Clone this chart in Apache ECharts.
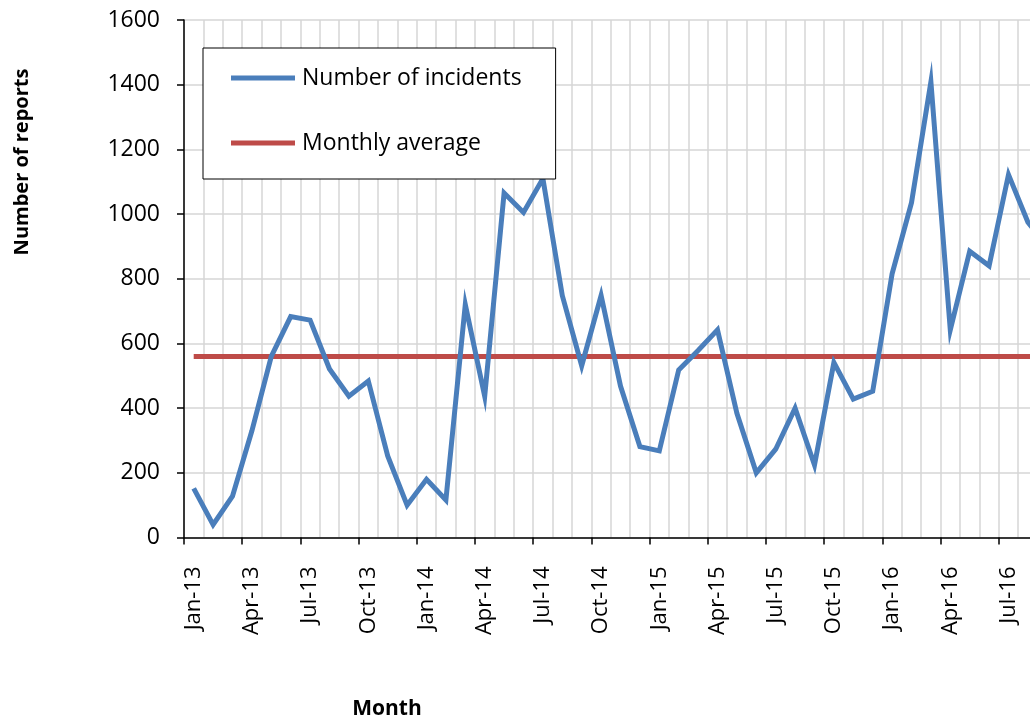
<!DOCTYPE html>
<html>
<head>
<meta charset="utf-8">
<script src="https://cdn.jsdelivr.net/npm/echarts@6/dist/echarts.min.js"></script>
<style>
  html, body { margin: 0; padding: 0; background: #fff; overflow: hidden; width: 1030px; height: 718px; }
  #chart { width: 1100px; height: 718px; }
</style>
</head>
<body>
<div id="chart"></div>
<script>
const months = [
  'Jan-13','Feb-13','Mar-13','Apr-13','May-13','Jun-13','Jul-13','Aug-13','Sep-13','Oct-13','Nov-13','Dec-13',
  'Jan-14','Feb-14','Mar-14','Apr-14','May-14','Jun-14','Jul-14','Aug-14','Sep-14','Oct-14','Nov-14','Dec-14',
  'Jan-15','Feb-15','Mar-15','Apr-15','May-15','Jun-15','Jul-15','Aug-15','Sep-15','Oct-15','Nov-15','Dec-15',
  'Jan-16','Feb-16','Mar-16','Apr-16','May-16','Jun-16','Jul-16','Aug-16','Sep-16'
];
const incidents = [
  152, 40, 128, 330, 560, 683, 672, 521, 437, 484, 252, 100,
  180, 116, 720, 437, 1065, 1005, 1110, 748, 531, 748, 468, 281,
  268, 518, 578, 642, 384, 200, 273, 400, 224, 541, 428, 452,
  815, 1035, 1409, 642, 885, 840, 1122, 975, 900
];
const monthlyAverageValue = 560;
const monthlyAverage = months.map(() => monthlyAverageValue);

const FONT = 'Open Sans';
const chart = echarts.init(document.getElementById('chart'), null, { renderer: 'canvas' });
chart.setOption({
  animation: false,
  backgroundColor: '#ffffff',
  grid: { left: 184, top: 20, width: 873, height: 517.5, containLabel: false },
  legend: {
    orient: 'vertical',
    left: 203, top: 48,
    padding: [17, 34, 23, 28],
    itemGap: 39,
    itemWidth: 64, itemHeight: 5,
    icon: 'rect',
    backgroundColor: '#ffffff',
    borderColor: '#000000',
    borderWidth: 1,
    borderRadius: 0,
    textStyle: { fontFamily: FONT, fontSize: 23, color: '#000', lineHeight: 26, padding: [0, 0, 0, 2] },
    data: ['Number of incidents', 'Monthly average']
  },
  xAxis: {
    type: 'category',
    data: months,
    boundaryGap: true,
    axisLine: { lineStyle: { color: '#000', width: 1.5 } },
    axisTick: { show: true, interval: 2, length: 7, lineStyle: { color: '#000', width: 1.5 } },
    axisLabel: { interval: 2, rotate: 90, margin: 29, fontFamily: FONT, fontSize: 22, color: '#000', padding: [10, 0, 0, 0] },
    splitLine: { show: true, interval: 0, lineStyle: { color: '#d6d6d6', width: 1.5 } }
  },
  yAxis: {
    type: 'value',
    min: 0, max: 1600, interval: 200,
    axisLine: { show: true, lineStyle: { color: '#000', width: 1.5 } },
    axisTick: { show: true, length: 7, lineStyle: { color: '#000', width: 1.5 } },
    axisLabel: { margin: 24, fontFamily: FONT, fontSize: 23, color: '#000', formatter: (v) => String(v) },
    splitLine: { show: true, lineStyle: { color: '#d6d6d6', width: 1.5 } }
  },
  series: [
    {
      name: 'Number of incidents', type: 'line', data: incidents,
      symbol: 'none', z: 3,
      itemStyle: { color: '#4a7ebb' },
      lineStyle: { color: '#4a7ebb', width: 5, join: 'miter' }
    },
    {
      name: 'Monthly average', type: 'line', data: monthlyAverage,
      symbol: 'none', z: 2,
      itemStyle: { color: '#be4b48' },
      lineStyle: { color: '#be4b48', width: 5 }
    }
  ],
  graphic: [
    {
      type: 'text', x: 22, y: 162, rotation: Math.PI / 2,
      style: { text: 'Number of reports', fontFamily: FONT, fontWeight: 'bold', fontSize: 20, fill: '#000', align: 'center', verticalAlign: 'middle' }
    },
    {
      type: 'text', x: 387, y: 709,
      style: { text: 'Month', fontFamily: FONT, fontWeight: 'bold', fontSize: 21, fill: '#000', align: 'center', verticalAlign: 'middle' }
    }
  ]
});
</script>
</body>
</html>
